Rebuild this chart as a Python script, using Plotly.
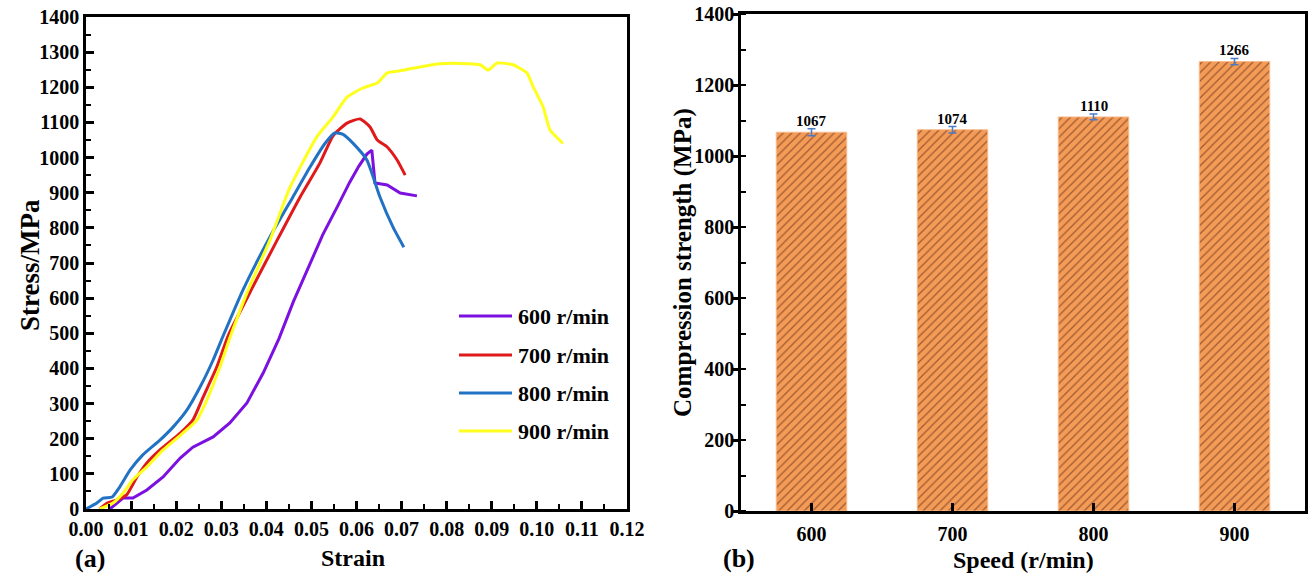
import plotly.graph_objects as go

# ---------------- data: (a) stress-strain curves ----------------
strain_600 = [0.0053, 0.0082, 0.0104, 0.0135, 0.0171, 0.0209, 0.0237, 0.0282, 0.0319, 0.0357, 0.0393,
              0.0428, 0.0460, 0.0497, 0.0525, 0.0557, 0.0585, 0.0605, 0.0623, 0.0634, 0.0641, 0.0668,
              0.0697, 0.0734]
stress_600 = [0, 31, 31, 54, 91, 145, 176, 205, 245, 302, 387,
              485, 590, 700, 780, 859, 930, 975, 1010, 1021, 928, 922,
              899, 891]

strain_700 = [0.0030, 0.0047, 0.0069, 0.0090, 0.0113, 0.0135, 0.0164, 0.0209, 0.0237, 0.0260, 0.0290,
              0.0316, 0.0370, 0.0424, 0.0475, 0.0519, 0.0548, 0.0579, 0.0608, 0.0630, 0.0646,
              0.0668, 0.0690, 0.0708]
stress_700 = [0, 17, 26, 40, 91, 131, 168, 216, 253, 319, 404,
              495, 632, 765, 888, 985, 1062, 1098, 1110, 1087, 1050,
              1030, 993, 950]

strain_800 = [0.0000, 0.0024, 0.0038, 0.0058, 0.0075, 0.0098, 0.0126, 0.0164, 0.0193, 0.0224, 0.0253,
              0.0282, 0.0305, 0.0348, 0.0408, 0.0459, 0.0497, 0.0530, 0.0552, 0.0570, 0.0592,
              0.0623, 0.0652, 0.0681, 0.0705]
stress_800 = [0, 17, 31, 34, 63, 111, 154, 196, 233, 282, 347,
              424, 495, 623, 774, 888, 973, 1040, 1070, 1066, 1041,
              993, 888, 802, 745]

strain_900 = [0.0030, 0.0060, 0.0082, 0.0104, 0.0135, 0.0171, 0.0215, 0.0246, 0.0268, 0.0297, 0.0320,
              0.0357, 0.0408, 0.0450, 0.0478, 0.0512, 0.0548, 0.0579, 0.0614, 0.0646, 0.0668,
              0.0697, 0.0740, 0.0785, 0.0830, 0.0874, 0.0892, 0.0912, 0.0947, 0.0978, 0.0992,
              0.1014, 0.1029, 0.1058]
stress_900 = [0, 17, 45, 83, 120, 168, 216, 253, 310, 404, 490,
              615, 765, 908, 980, 1059, 1116, 1172, 1198, 1212, 1241,
              1247, 1258, 1267, 1268, 1264, 1249, 1269, 1264, 1241, 1201,
              1144, 1079, 1040]

series_names = ["600 r/min", "700 r/min", "800 r/min", "900 r/min"]
series_colors = ["#7B10E0", "#E01A1A", "#2272C4", "#FFFF1E"]
series_shapes = ["linear", "spline", "spline", "spline"]

# ---------------- data: (b) compression strength ----------------
speeds = [600, 700, 800, 900]
strength = [1067, 1074, 1110, 1266]
strength_err = [10, 9, 8, 9]
strength_labels = ["1067", "1074", "1110", "1266"]

x_ticks_a = [round(0.01 * i, 2) for i in range(13)]
y_ticks_a = list(range(0, 1401, 100))
y_ticks_b = list(range(0, 1401, 200))

FONT = "Liberation Serif"
W, H = 1308, 575

fig = go.Figure()

curves = [(strain_600, stress_600), (strain_700, stress_700),
          (strain_800, stress_800), (strain_900, stress_900)]
for (xs, ys), name, col, shp in zip(curves, series_names, series_colors, series_shapes):
    fig.add_trace(go.Scatter(x=xs, y=ys, mode="lines", name=name,
                             line=dict(color=col, width=3, shape=shp, smoothing=0.5),
                             xaxis="x", yaxis="y", showlegend=False))

fig.add_trace(go.Bar(
    x=speeds, y=strength, width=50, xaxis="x2", yaxis="y2", showlegend=False,
    marker=dict(color="#F59B58", line=dict(color="#F8BC8C", width=1),
                pattern=dict(shape="/", fgcolor="#4A1E08", size=6, solidity=0.22,
                             fillmode="overlay")),
    error_y=dict(type="data", array=strength_err, color="#4A7CC8",
                 thickness=1.5, width=4),
))

axis_line = dict(showline=True, linecolor="black", linewidth=2.5, mirror=True,
                 showgrid=False, zeroline=False, automargin=False,
                 tickfont=dict(family=FONT, size=20, color="black", weight="bold"))

fig.update_layout(
    width=W, height=H,
    margin=dict(l=0, r=0, t=0, b=0, pad=0),
    paper_bgcolor="white", plot_bgcolor="white",
    xaxis=dict(domain=[86 / W, 627 / W], range=[0, 0.12], tickvals=x_ticks_a,
               tickformat=".2f", ticks="inside", ticklen=8, tickwidth=2.5,
               tickcolor="black",
               minor=dict(ticks="inside", ticklen=5, tickwidth=2, dtick=0.005,
                          tick0=0, tickcolor="black"),
               anchor="y", **axis_line),
    yaxis=dict(domain=[1 - 509 / H, 1 - 17 / H], range=[0, 1400], tickvals=y_ticks_a,
               ticks="inside", ticklen=8, tickwidth=2.5, tickcolor="black",
               minor=dict(ticks="inside", ticklen=5, tickwidth=2, dtick=50,
                          tick0=0, tickcolor="black"),
               anchor="x", **axis_line),
    xaxis2=dict(domain=[741 / W, 1305 / W], range=[550, 950], tickvals=speeds,
                ticks="inside", ticklen=8, tickwidth=2.5, tickcolor="black",
                anchor="y2", ticklabelstandoff=3, **axis_line),
    yaxis2=dict(domain=[1 - 511 / H, 1 - 14 / H], range=[0, 1400], tickvals=y_ticks_b,
                ticks="outside", ticklen=5, tickwidth=2.5, tickcolor="black",
                ticklabelstandoff=-5,
                minor=dict(ticks="inside", ticklen=5, tickwidth=2, dtick=100,
                           tick0=0, tickcolor="black"),
                anchor="x2", **axis_line),
)

annotations = []


def txt(x, y, text, size, angle=0, xanchor="center", yanchor="middle"):
    annotations.append(dict(x=x, y=y, xref="paper", yref="paper", text=text,
                            showarrow=False, textangle=angle, xanchor=xanchor,
                            yanchor=yanchor,
                            font=dict(family=FONT, size=size, color="black",
                                      weight="bold")))


txt(30 / W, 1 - 265 / H, "Stress/MPa", 27, angle=-90)
txt(353 / W, 1 - 558 / H, "Strain", 24)
txt(90 / W, 1 - 558 / H, "(a)", 26)
txt(683 / W, 1 - 263 / H, "Compression strength (MPa)", 25, angle=-90)
txt(1023 / W, 1 - 560 / H, "Speed (r/min)", 24)
txt(739 / W, 1 - 558 / H, "(b)", 26)

# legend for panel (a)
leg_y = [316, 355, 393, 431]
shapes = []
for name, col, yy in zip(series_names, series_colors, leg_y):
    shapes.append(dict(type="line", xref="paper", yref="paper",
                       x0=459 / W, x1=512 / W, y0=1 - yy / H, y1=1 - yy / H,
                       line=dict(color=col, width=3)))
    txt(516 / W, 1 - yy / H, name, 22, xanchor="left")

# value labels over the bars
for sp, val, err, lab in zip(speeds, strength, strength_err, strength_labels):
    annotations.append(dict(x=sp, y=val + err, xref="x2", yref="y2", text=lab,
                            showarrow=False, yanchor="bottom", yshift=-2,
                            font=dict(family=FONT, size=15, color="black",
                                      weight="bold")))

fig.update_layout(annotations=annotations, shapes=shapes)

fig.write_html("out.html")
